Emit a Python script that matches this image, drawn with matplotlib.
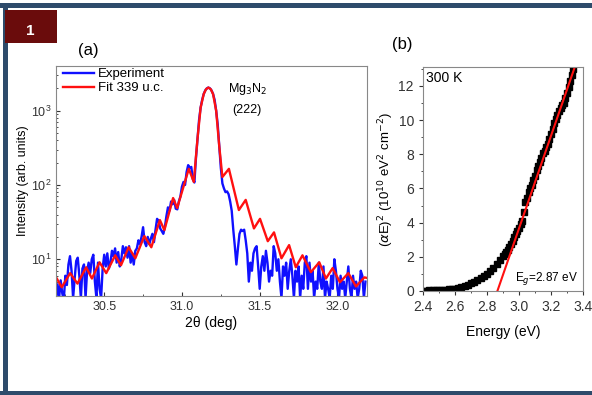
import numpy as np
import matplotlib
matplotlib.use("Agg")
import matplotlib.pyplot as plt
from matplotlib.patches import Rectangle
from matplotlib.ticker import MultipleLocator, LogLocator, NullFormatter, FormatStrFormatter

plt.rcParams['font.family'] = ['Liberation Sans', 'DejaVu Sans']

# (a) XRD scan around Mg3N2 (222)
fit_2theta = [30.195, 30.227, 30.281, 30.328, 30.384, 30.421, 30.470, 30.513, 30.571, 30.608,
              30.657, 30.700, 30.758, 30.803, 30.858, 30.887, 30.943, 30.969, 31.044, 31.076,
              31.10, 31.12, 31.14, 31.155, 31.17, 31.185, 31.20, 31.22, 31.24, 31.26,
              31.302, 31.366, 31.410, 31.463, 31.502, 31.552, 31.592, 31.640, 31.689, 31.732,
              31.775, 31.829, 31.883, 31.926, 31.969, 32.016, 32.070, 32.119, 32.173, 32.19]
fit_intensity = [5.5, 4.2, 6.5, 4.7, 7.8, 5.5, 9.1, 6.5, 11.3, 8.3,
                 14.5, 10.3, 20.5, 14.5, 33.7, 24.7, 66.7, 48.9, 165, 110,
                 420, 1100, 1680, 1950, 2050, 1950, 1680, 1000, 330, 128,
                 165, 46, 63, 26, 35, 17.5, 23, 10.3, 15.5, 7.8,
                 11.3, 6.7, 9.1, 5.5, 7.6, 4.9, 6.5, 4.3, 5.7, 5.6]

exp_2theta = [30.19, 30.20, 30.21, 30.22, 30.23, 30.24, 30.25, 30.26, 30.27, 30.28,
              30.29, 30.30, 30.31, 30.32, 30.33, 30.34, 30.35, 30.36, 30.37, 30.38,
              30.39, 30.40, 30.41, 30.42, 30.43, 30.44, 30.45, 30.46, 30.47, 30.48,
              30.49, 30.50, 30.51, 30.52, 30.53, 30.54, 30.55, 30.56, 30.57, 30.58,
              30.59, 30.60, 30.61, 30.62, 30.63, 30.64, 30.65, 30.66, 30.67, 30.68,
              30.69, 30.70, 30.71, 30.72, 30.73, 30.74, 30.75, 30.76, 30.77, 30.78,
              30.79, 30.80, 30.81, 30.82, 30.83, 30.84, 30.85, 30.86, 30.87, 30.88,
              30.89, 30.90, 30.91, 30.92, 30.93, 30.94, 30.95, 30.96, 30.97, 30.98,
              30.99, 31.00, 31.01, 31.02, 31.03, 31.04, 31.05, 31.06, 31.07, 31.08,
              31.09, 31.10, 31.11, 31.12, 31.13, 31.14, 31.15, 31.16, 31.17, 31.18,
              31.19, 31.20, 31.21, 31.22, 31.23, 31.24, 31.25, 31.26, 31.27, 31.28,
              31.29, 31.30, 31.31, 31.32, 31.33, 31.34, 31.35, 31.36, 31.37, 31.38,
              31.39, 31.40, 31.41, 31.42, 31.43, 31.44, 31.45, 31.46, 31.47, 31.48,
              31.49, 31.50, 31.51, 31.52, 31.53, 31.54, 31.55, 31.56, 31.57, 31.58,
              31.59, 31.60, 31.61, 31.62, 31.63, 31.64, 31.65, 31.66, 31.67, 31.68,
              31.69, 31.70, 31.71, 31.72, 31.73, 31.74, 31.75, 31.76, 31.77, 31.78,
              31.79, 31.80, 31.81, 31.82, 31.83, 31.84, 31.85, 31.86, 31.87, 31.88,
              31.89, 31.90, 31.91, 31.92, 31.93, 31.94, 31.95, 31.96, 31.97, 31.98,
              31.99, 32.00, 32.01, 32.02, 32.03, 32.04, 32.05, 32.06, 32.07, 32.08,
              32.09, 32.10, 32.11, 32.12, 32.13, 32.14, 32.15, 32.16, 32.17, 32.18]
exp_intensity = [3.0, 4.6, 3.0, 5.2, 3.5, 2.8, 6.0, 4.5, 8.5, 11.0,
                 7.0, 3.0, 5.5, 9.5, 10.5, 6.0, 3.0, 7.5, 8.5, 3.0,
                 7.0, 9.0, 6.5, 10.0, 11.5, 5.0, 3.0, 9.0, 4.0, 3.0,
                 7.5, 11.5, 8.0, 12.0, 7.5, 9.0, 13.0, 11.0, 14.0, 9.0,
                 12.5, 8.0, 10.0, 15.0, 12.0, 14.5, 10.5, 15.0, 9.0, 12.0,
                 8.5, 13.0, 14.0, 18.0, 16.0, 20.0, 27.0, 17.0, 15.0, 20.0,
                 16.0, 19.0, 22.0, 17.0, 25.0, 35.0, 33.0, 26.0, 24.0, 22.0,
                 27.0, 38.0, 50.0, 45.0, 60.0, 55.0, 63.0, 48.0, 47.0, 60.0,
                 70.0, 95.0, 110.0, 100.0, 150.0, 185.0, 170.0, 175.0, 120.0, 108.0,
                 230.0, 420.0, 750.0, 1100.0, 1400.0, 1680.0, 1880.0, 2000.0, 2050.0, 2000.0,
                 1880.0, 1680.0, 1400.0, 1000.0, 650.0, 330.0, 170.0, 105.0, 90.0, 80.0,
                 82.0, 75.0, 60.0, 45.0, 25.0, 15.0, 8.5, 14.0, 22.0, 25.0,
                 24.0, 25.0, 18.0, 12.0, 5.0, 9.0, 7.0, 12.0, 14.0, 15.0,
                 8.0, 4.0, 8.0, 11.0, 7.0, 13.0, 9.0, 5.0, 7.0, 6.0,
                 15.0, 12.0, 7.0, 10.0, 5.0, 3.0, 8.0, 6.0, 9.0, 4.0,
                 7.0, 10.0, 6.0, 3.0, 7.0, 5.0, 8.0, 3.0, 6.0, 4.0,
                 9.0, 11.0, 4.0, 9.0, 5.0, 7.0, 3.0, 5.0, 4.0, 9.0,
                 5.0, 4.0, 8.0, 3.0, 5.0, 4.0, 3.0, 6.0, 4.0, 10.0,
                 7.0, 4.0, 3.0, 6.0, 4.0, 5.0, 3.0, 5.0, 8.0, 4.0,
                 3.0, 6.0, 4.0, 5.0, 3.0, 4.0, 7.0, 6.0, 3.0, 5.0]

# (b) Tauc plot
energy = [2.40, 2.42, 2.44, 2.46, 2.48, 2.50, 2.52, 2.54, 2.56, 2.58,
          2.60, 2.62, 2.64, 2.66, 2.68, 2.70, 2.72, 2.74, 2.76, 2.78,
          2.80, 2.82, 2.84, 2.86, 2.88, 2.90, 2.91, 2.92, 2.93, 2.94,
          2.95, 2.96, 2.97, 2.98, 2.99, 3.00, 3.01, 3.02, 3.03, 3.04,
          3.05, 3.06, 3.07, 3.08, 3.09, 3.10, 3.11, 3.12, 3.13, 3.14,
          3.15, 3.16, 3.17, 3.18, 3.19, 3.20, 3.21, 3.22, 3.23, 3.24,
          3.25, 3.26, 3.27, 3.28, 3.29, 3.30, 3.31, 3.32, 3.33, 3.34]
alpha_e_sq = [0.02, 0.02, 0.03, 0.03, 0.04, 0.05, 0.06, 0.07, 0.09, 0.11,
              0.14, 0.18, 0.23, 0.29, 0.36, 0.44, 0.53, 0.63, 0.74, 0.88,
              1.02, 1.18, 1.36, 1.56, 1.80, 2.05, 2.15, 2.28, 2.42, 2.58,
              2.76, 2.95, 3.15, 3.35, 3.52, 3.70, 3.90, 4.10, 4.60, 5.20,
              5.45, 5.80, 6.00, 6.20, 6.50, 6.75, 7.05, 7.30, 7.55, 7.80,
              8.05, 8.20, 8.40, 8.60, 8.90, 9.20, 9.50, 9.80, 10.05, 10.30,
              10.50, 10.70, 10.85, 11.00, 11.30, 11.60, 11.95, 12.30, 12.65, 13.00]
fit_energy = [2.865, 3.345]
fit_alpha_e_sq = [0.0, 13.0]

W, H = 592, 395
fig = plt.figure(figsize=(W / 100, H / 100), dpi=100)


def px_rect(x0, y0, x1, y1, **kw):
    # rectangle given in image pixel coords (origin top-left)
    fig.patches.append(Rectangle((x0 / W, 1 - y1 / H), (x1 - x0) / W, (y1 - y0) / H,
                                 transform=fig.transFigure, figure=fig, **kw))


# slide frame
frame = '#2e4b6b'
px_rect(0, 3, W, 8, color=frame, lw=0)
px_rect(3, 3, 8, H, color=frame, lw=0)
px_rect(0, 391, W, H, color=frame, lw=0)
px_rect(5, 10, 57, 43, color='#6a0c0c', lw=0)
fig.text(30 / W, 1 - 31 / H, '1', color='white', fontsize=11, fontweight='bold',
         ha='center', va='center')

fig.text(88 / W, 1 - 50 / H, '(a)', fontsize=12, ha='center', va='center')
fig.text(402 / W, 1 - 45 / H, '(b)', fontsize=12, ha='center', va='center')

# panel (a)
ax = fig.add_axes([56 / W, 1 - 296 / H, 311 / W, 230 / H])
ax.plot(exp_2theta, exp_intensity, color='#1010ff', lw=1.7, label='Experiment')
ax.plot(fit_2theta, fit_intensity, color='#ff1010', lw=1.7, label='Fit 339 u.c.')
ax.set_yscale('log')
ax.set_xlim(30.19, 32.19)
ax.set_ylim(3.2, 4000)
ax.xaxis.set_major_locator(MultipleLocator(0.5))
ax.xaxis.set_minor_locator(MultipleLocator(0.25))
ax.xaxis.set_major_formatter(FormatStrFormatter('%.1f'))
ax.yaxis.set_major_locator(LogLocator(base=10, numticks=10))
ax.yaxis.set_minor_locator(LogLocator(base=10, subs=np.arange(2, 10), numticks=10))
ax.yaxis.set_minor_formatter(NullFormatter())
ax.tick_params(which='both', direction='in', labelsize=9, colors='#333333')
ax.tick_params(which='major', length=3)
ax.tick_params(which='minor', length=1.5)
ax.set_xlabel('2θ (deg)', fontsize=10, labelpad=2)
ax.set_ylabel('Intensity (arb. units)', fontsize=9, labelpad=1)
for s in ax.spines.values():
    s.set_color('#888888')
ax.legend(loc='upper left', frameon=False, fontsize=9.5, handlelength=2.4,
          handletextpad=0.3, labelspacing=0.15, borderaxespad=0.1,
          bbox_to_anchor=(0.0, 1.02))
ax.text(0.615, 0.9, 'Mg$_3$N$_2$', transform=ax.transAxes, fontsize=9, ha='center', va='center')
ax.text(0.615, 0.81, '(222)', transform=ax.transAxes, fontsize=9, ha='center', va='center')

# panel (b)
bx = fig.add_axes([423 / W, 1 - 291 / H, 160 / W, 224 / H])
bx.plot(energy, alpha_e_sq, 's', color='black', ms=4)
bx.plot(fit_energy, fit_alpha_e_sq, color='#ff1010', lw=1.5)
bx.set_xlim(2.4, 3.4)
bx.set_ylim(0, 13.1)
bx.xaxis.set_major_locator(MultipleLocator(0.2))
bx.xaxis.set_minor_locator(MultipleLocator(0.1))
bx.yaxis.set_major_locator(MultipleLocator(2))
bx.yaxis.set_minor_locator(MultipleLocator(1))
bx.tick_params(which='both', direction='out', labelsize=10, colors='#333333')
bx.tick_params(which='major', length=3)
bx.tick_params(which='minor', length=1.5)
bx.set_xlabel('Energy (eV)', fontsize=10, labelpad=8)
bx.set_ylabel('($\\alpha$E)$^2$ (10$^{10}$ eV$^2$ cm$^{-2}$)', fontsize=9.5, labelpad=2)
for s in bx.spines.values():
    s.set_color('#888888')
bx.text(0.02, 0.95, '300 K', transform=bx.transAxes, fontsize=10, ha='left', va='center')
bx.text(0.97, 0.055, 'E$_g$=2.87 eV', transform=bx.transAxes, fontsize=8.5,
        ha='right', va='center')

fig.savefig('out.png', dpi=100)
